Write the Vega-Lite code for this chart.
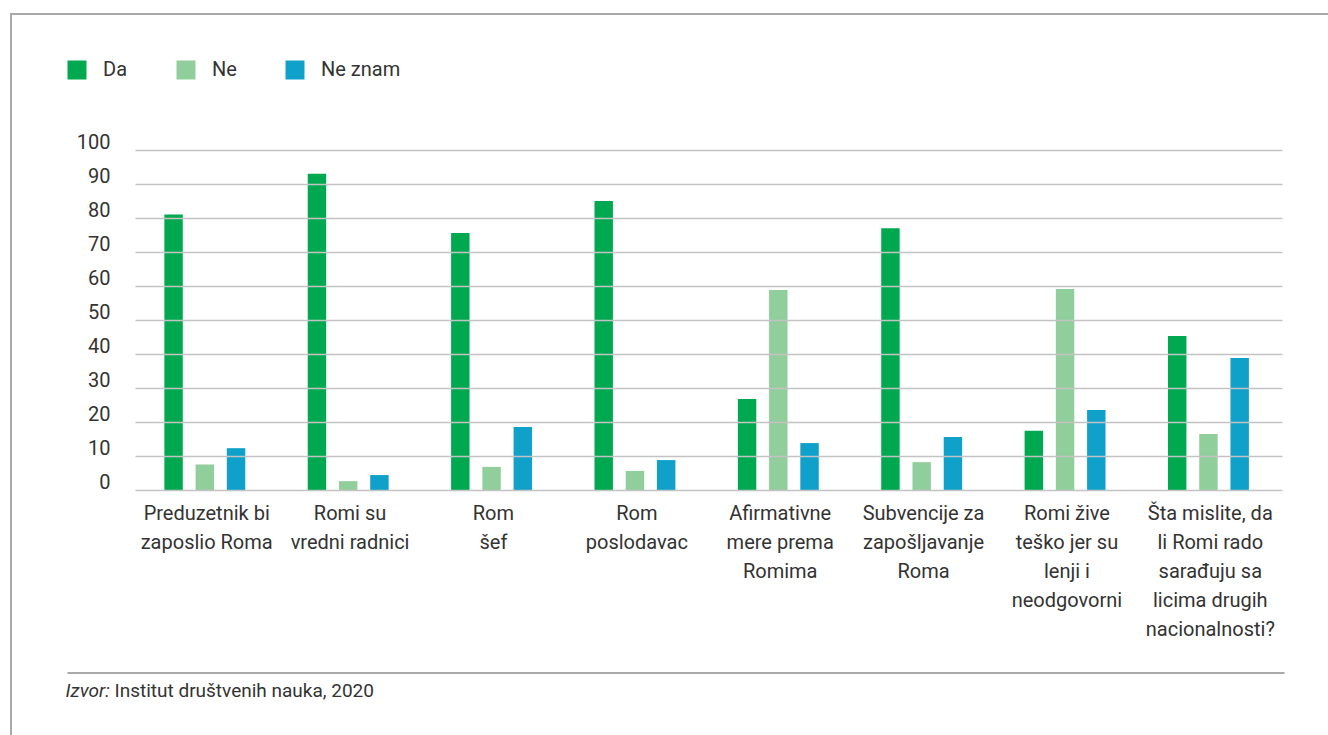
{
  "$schema": "https://vega.github.io/schema/vega-lite/v6.json",
  "width": 1321,
  "height": 726,
  "autosize": {"type": "none"},
  "padding": {"left": 11, "top": 14, "right": -4, "bottom": -5},
  "background": "white",
  "config": {
    "view": {"stroke": "#a9a9a9", "strokeWidth": 2},
    "font": "Roboto, Liberation Sans, sans-serif"
  },
  "data": {
    "values": [
      {"q": "Preduzetnik bi\nzaposlio Roma", "resp": "Da", "v": 81},
      {"q": "Preduzetnik bi\nzaposlio Roma", "resp": "Ne", "v": 7.5},
      {"q": "Preduzetnik bi\nzaposlio Roma", "resp": "Ne znam", "v": 12.3},
      {"q": "Romi su\nvredni radnici", "resp": "Da", "v": 93},
      {"q": "Romi su\nvredni radnici", "resp": "Ne", "v": 2.6},
      {"q": "Romi su\nvredni radnici", "resp": "Ne znam", "v": 4.4},
      {"q": "Rom\nšef", "resp": "Da", "v": 75.6},
      {"q": "Rom\nšef", "resp": "Ne", "v": 6.8},
      {"q": "Rom\nšef", "resp": "Ne znam", "v": 18.5},
      {"q": "Rom\nposlodavac", "resp": "Da", "v": 85},
      {"q": "Rom\nposlodavac", "resp": "Ne", "v": 5.6},
      {"q": "Rom\nposlodavac", "resp": "Ne znam", "v": 8.8},
      {"q": "Afirmativne\nmere prema\nRomima", "resp": "Da", "v": 26.8},
      {"q": "Afirmativne\nmere prema\nRomima", "resp": "Ne", "v": 58.8},
      {"q": "Afirmativne\nmere prema\nRomima", "resp": "Ne znam", "v": 13.8},
      {"q": "Subvencije za\nzapošljavanje\nRoma", "resp": "Da", "v": 77},
      {"q": "Subvencije za\nzapošljavanje\nRoma", "resp": "Ne", "v": 8.2},
      {"q": "Subvencije za\nzapošljavanje\nRoma", "resp": "Ne znam", "v": 15.6},
      {"q": "Romi žive\nteško jer su\nlenji i\nneodgovorni", "resp": "Da", "v": 17.4},
      {"q": "Romi žive\nteško jer su\nlenji i\nneodgovorni", "resp": "Ne", "v": 59.1},
      {"q": "Romi žive\nteško jer su\nlenji i\nneodgovorni", "resp": "Ne znam", "v": 23.5},
      {"q": "Šta mislite, da\nli Romi rado\nsarađuju sa\nlicima drugih\nnacionalnosti?", "resp": "Da", "v": 45.3},
      {"q": "Šta mislite, da\nli Romi rado\nsarađuju sa\nlicima drugih\nnacionalnosti?", "resp": "Ne", "v": 16.5},
      {"q": "Šta mislite, da\nli Romi rado\nsarađuju sa\nlicima drugih\nnacionalnosti?", "resp": "Ne znam", "v": 38.8}
    ]
  },
  "resolve": {"scale": {"x": "independent"}, "axis": {"x": "independent"}},
  "layer": [
    {
      "mark": {"type": "bar"},
      "encoding": {
        "x": {
          "field": "q",
          "type": "nominal",
          "sort": null,
          "scale": {"range": [124, 1271], "paddingInner": 0, "paddingOuter": 0},
          "axis": {
            "orient": "bottom",
            "offset": -250,
            "domain": false,
            "ticks": false,
            "grid": false,
            "labelAngle": 0,
            "labelAlign": "center",
            "labelBaseline": "top",
            "labelPadding": 13,
            "labelFontSize": 20,
            "labelLineHeight": 29,
            "labelColor": "#333333",
            "labelLimit": 0,
            "labelOverlap": false,
            "labelExpr": "split(datum.label, '\\n')",
            "title": "Izvor:",
            "titleX": 54,
            "titleY": 206,
            "titleAlign": "left",
            "titleBaseline": "alphabetic",
            "titleAngle": 0,
            "titleFontStyle": "italic",
            "titleFontWeight": "normal",
            "titleFontSize": 19,
            "titleColor": "#333333"
          }
        },
        "xOffset": {
          "field": "resp",
          "type": "nominal",
          "sort": ["Da", "Ne", "Ne znam"],
          "scale": {"paddingInner": 0.41, "paddingOuter": 1.055, "align": 0.47}
        },
        "y": {
          "field": "v",
          "type": "quantitative",
          "scale": {"domain": [0, 100], "range": [476, 136], "nice": false, "zero": true},
          "axis": {
            "orient": "left",
            "offset": -124,
            "values": [0, 10, 20, 30, 40, 50, 60, 70, 80, 90, 100],
            "domain": false,
            "ticks": false,
            "grid": true,
            "gridColor": "#c3c3c3",
            "gridWidth": 1.5,
            "zindex": 1,
            "labelPadding": 25,
            "labelFontSize": 20,
            "labelColor": "#333333",
            "labelBaseline": "alphabetic",
            "labelOffset": -2,
            "title": null
          }
        },
        "color": {
          "field": "resp",
          "type": "nominal",
          "scale": {"domain": ["Da", "Ne", "Ne znam"], "range": ["#00a94f", "#90ce9c", "#10a1cb"]},
          "legend": {
            "orient": "none",
            "legendX": 56,
            "legendY": 46,
            "direction": "horizontal",
            "title": null,
            "symbolType": "square",
            "symbolSize": 361,
            "symbolStrokeWidth": 0,
            "symbolOpacity": 1,
            "labelFontSize": 20,
            "labelColor": "#333333",
            "labelOffset": 16,
            "labelBaseline": "middle",
            "columnPadding": 48,
            "padding": 0
          }
        }
      }
    },
    {
      "data": {"values": [{"k": 0}]},
      "mark": {"type": "point", "opacity": 0},
      "encoding": {
        "x": {
          "datum": 0,
          "type": "quantitative",
          "scale": {"domain": [0, 1], "range": [56, 1273]},
          "axis": {
            "orient": "bottom",
            "offset": -67.5,
            "domain": true,
            "domainColor": "#a9a9a9",
            "domainWidth": 2,
            "ticks": false,
            "labels": false,
            "grid": false,
            "title": "Institut društvenih nauka, 2020",
            "titleX": 103,
            "titleY": 23.5,
            "titleAlign": "left",
            "titleBaseline": "alphabetic",
            "titleAngle": 0,
            "titleFontWeight": "normal",
            "titleFontSize": 19,
            "titleColor": "#333333"
          }
        }
      }
    }
  ]
}
